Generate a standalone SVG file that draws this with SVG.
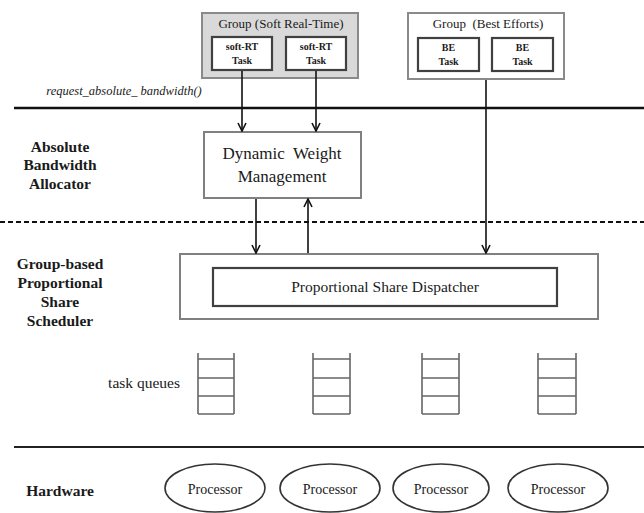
<svg xmlns="http://www.w3.org/2000/svg" width="644" height="513" viewBox="0 0 644 513">
<style>
  text { font-family: "Liberation Serif", "Times New Roman", Tinos, "Noto Serif", "DejaVu Serif", serif; fill: #1a1a1a; }
  .lbl { font-weight: bold; font-size: 15.5px; text-anchor: middle; }
  .grp { font-size: 13px; text-anchor: middle; }
  .task { font-weight: bold; font-size: 10px; text-anchor: middle; }
  .grpbox { stroke: #8a8a8a; stroke-width: 2; }
  .taskbox { fill: #ffffff; stroke: #404040; stroke-width: 2.2; }
  .box { fill: #ffffff; stroke: #808080; stroke-width: 2; }
  .conn { stroke: #111; stroke-width: 1.6; fill: none; marker-end: url(#arr); }
  .queue { stroke: #666; stroke-width: 1.6; fill: none; }
  .proc { fill: #ffffff; stroke: #333; stroke-width: 1.6; }
  .ptxt { font-size: 14px; text-anchor: middle; }
</style>
<defs>
  <marker id="arr" viewBox="0 0 10 10" refX="9" refY="5" markerWidth="10" markerHeight="10" markerUnits="userSpaceOnUse" orient="auto">
    <path d="M1,1 L9,5 L1,9" fill="none" stroke="#111" stroke-width="1.6"/>
  </marker>
</defs>
<rect width="644" height="513" fill="#ffffff"/>

<!-- layer separators -->
<g id="separators">
  <line x1="14" y1="108" x2="644" y2="108" stroke="#111" stroke-width="2.5"/>
  <line x1="0" y1="222" x2="644" y2="222" stroke="#111" stroke-width="2" stroke-dasharray="5,3"/>
  <line x1="14" y1="447" x2="644" y2="447" stroke="#222" stroke-width="2"/>
</g>

<!-- layer labels -->
<g id="labels">
  <text x="124" y="95" font-style="italic" font-size="12.5px" text-anchor="middle" fill="#333">request_absolute_ bandwidth()</text>
  <text class="lbl" x="60" y="152">Absolute</text>
  <text class="lbl" x="60" y="170">Bandwidth</text>
  <text class="lbl" x="60" y="189">Allocator</text>
  <text class="lbl" x="60" y="269">Group-based</text>
  <text class="lbl" x="60" y="288">Proportional</text>
  <text class="lbl" x="60" y="307">Share</text>
  <text class="lbl" x="60" y="326">Scheduler</text>
  <text x="180" y="388" font-size="15.5px" text-anchor="end">task queues</text>
  <text class="lbl" x="60" y="496">Hardware</text>
</g>

<!-- Group Soft Real-Time -->
<g id="group-srt">
  <rect class="grpbox" x="202" y="13" width="156" height="65" fill="#d9d9d9"/>
  <text class="grp" x="281" y="28">Group (Soft Real-Time)</text>
</g>
<g id="srt-task-1">
  <rect class="taskbox" x="212" y="37" width="60" height="33"/>
  <text class="task" x="242" y="50">soft-RT</text>
  <text class="task" x="242" y="64">Task</text>
</g>
<g id="srt-task-2">
  <rect class="taskbox" x="286" y="37" width="60" height="33"/>
  <text class="task" x="316" y="50">soft-RT</text>
  <text class="task" x="316" y="64">Task</text>
</g>

<!-- Group Best Efforts -->
<g id="group-be">
  <rect class="grpbox" x="408" y="13" width="156" height="66" fill="#ffffff"/>
  <text class="grp" x="488" y="28">Group&#160; (Best Efforts)</text>
</g>
<g id="be-task-1">
  <rect class="taskbox" x="418" y="38" width="61" height="33"/>
  <text class="task" x="448.5" y="51">BE</text>
  <text class="task" x="448.5" y="65">Task</text>
</g>
<g id="be-task-2">
  <rect class="taskbox" x="492" y="38" width="61" height="33"/>
  <text class="task" x="522.5" y="51">BE</text>
  <text class="task" x="522.5" y="65">Task</text>
</g>

<!-- Dynamic Weight Management -->
<g id="dwm">
  <rect class="box" x="204" y="132" width="157" height="66"/>
  <text x="282" y="159" font-size="17px" text-anchor="middle" fill="#333">Dynamic&#160; Weight</text>
  <text x="282" y="182" font-size="17px" text-anchor="middle" fill="#333">Management</text>
</g>

<!-- Scheduler -->
<g id="scheduler">
  <rect class="box" x="180" y="254" width="418" height="65"/>
</g>
<g id="dispatcher">
  <rect x="213" y="268" width="344" height="38" fill="#ffffff" stroke="#404040" stroke-width="2.2"/>
  <text x="385" y="292" font-size="15.5px" text-anchor="middle">Proportional Share Dispatcher</text>
</g>

<!-- Task queues -->
<g id="queue-1">
  <path class="queue" d="M198,353 V414 M234,353 V414 M198,359 H234 M198,378 H234 M198,396 H234 M198,414 H234"/>
</g>
<g id="queue-2">
  <path class="queue" d="M313,353 V414 M350,353 V414 M313,359 H350 M313,378 H350 M313,396 H350 M313,414 H350"/>
</g>
<g id="queue-3">
  <path class="queue" d="M422,353 V414 M459,353 V414 M422,359 H459 M422,378 H459 M422,396 H459 M422,414 H459"/>
</g>
<g id="queue-4">
  <path class="queue" d="M538,353 V414 M576,353 V414 M538,359 H576 M538,378 H576 M538,396 H576 M538,414 H576"/>
</g>

<!-- Processors -->
<g id="processor-1">
  <ellipse class="proc" cx="215" cy="488" rx="50" ry="24"/>
  <text class="ptxt" x="215" y="494">Processor</text>
</g>
<g id="processor-2">
  <ellipse class="proc" cx="330" cy="488" rx="50" ry="24"/>
  <text class="ptxt" x="330" y="494">Processor</text>
</g>
<g id="processor-3">
  <ellipse class="proc" cx="441" cy="488" rx="48" ry="24"/>
  <text class="ptxt" x="441" y="494">Processor</text>
</g>
<g id="processor-4">
  <ellipse class="proc" cx="558" cy="488" rx="50" ry="24"/>
  <text class="ptxt" x="558" y="494">Processor</text>
</g>

<!-- Connectors -->
<g id="connectors">
  <line class="conn" x1="242" y1="71" x2="242" y2="131"/>
  <line class="conn" x1="316" y1="71" x2="316" y2="131"/>
  <line class="conn" x1="486" y1="80" x2="486" y2="253"/>
  <line class="conn" x1="256" y1="199" x2="256" y2="253"/>
  <line class="conn" x1="308" y1="253" x2="308" y2="199"/>
</g>
</svg>
